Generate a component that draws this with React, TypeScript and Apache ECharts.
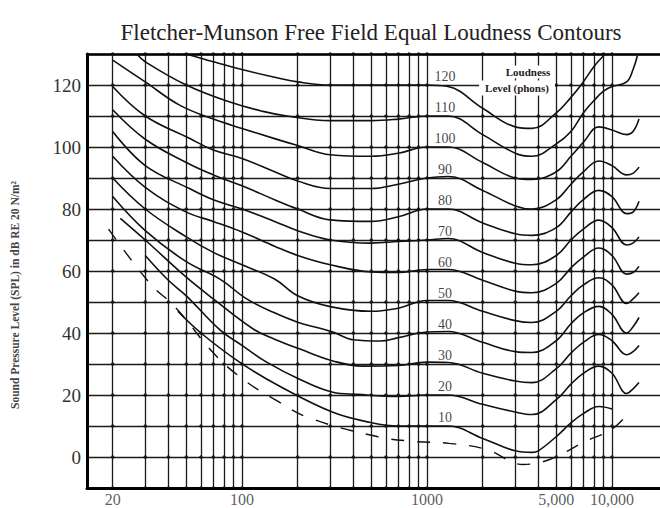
import React, { useEffect, useRef } from 'react';
import * as echarts from 'echarts';

const chartTitle = 'Fletcher-Munson Free Field Equal Loudness Contours';
const yAxisTitle = 'Sound Pressure Level (SPL) in dB RE 20 N/m²';
const legendLine1 = 'Loudness';
const legendLine2 = 'Level (phons)';

// vertical grid lines (Hz)
const freqGrid = [20, 30, 40, 50, 60, 70, 80, 90, 100, 200, 300, 400, 500, 600, 700, 800, 900, 1000,
  2000, 3000, 4000, 5000, 6000, 7000, 8000, 9000, 10000];
// horizontal grid lines (dB)
const dbGrid = [-10, 0, 10, 20, 30, 40, 50, 60, 70, 80, 90, 100, 110, 120, 130];
// x tick labels
const xTickValues = [20, 100, 1000, 5000, 10000];
const xTickTexts = ['20', '100', '1000', '5,000', '10,000'];
// curve labels (phons)
const phonLevels = [10, 20, 30, 40, 50, 60, 70, 80, 90, 100, 110, 120];

const phon120 = [[50, 130], [70, 127.5], [100, 125], [150, 122.5], [200, 121], [300, 120], [500, 120], [700, 120], [1000, 120], [1300, 119.5], [2000, 112.5], [3000, 106.5], [3700, 106], [5000, 111], [6000, 116], [7000, 121], [8000, 126], [9200, 130]];
const phon110 = [[27, 130], [30, 127.5], [50, 120], [86, 114.5], [130, 111.5], [175, 110], [300, 108.5], [500, 108.5], [700, 109], [1000, 110], [1300, 110], [2000, 104], [3000, 98], [3700, 97], [5000, 101], [6000, 105], [7000, 111], [8000, 115], [9000, 118], [10000, 119.5], [12000, 121], [13000, 125], [13800, 130]];
const phon100 = [[20, 128], [30, 121], [46, 113.5], [70, 109], [100, 106], [150, 102.7], [200, 100.5], [300, 97.5], [500, 97], [700, 98], [1000, 100], [1300, 100], [2000, 95], [3000, 90], [3700, 89.5], [5000, 92], [6000, 97], [7000, 101.5], [8500, 106.5], [10000, 105.5], [12000, 104], [13000, 105], [14000, 109]];
const phon90 = [[20, 119.5], [30, 110], [52, 102.8], [70, 99], [100, 96.3], [150, 92], [200, 89], [300, 86.6], [500, 86.6], [700, 88], [1000, 90], [1300, 90.5], [2000, 86], [3000, 81], [3700, 80], [5000, 83], [6000, 88], [7000, 92], [8500, 95.5], [10000, 94], [12000, 91], [13000, 91.5], [14000, 93.5]];
const phon80 = [[20, 112], [30, 102.5], [50, 95], [70, 91], [100, 87.5], [150, 83], [200, 80], [300, 76.5], [500, 76], [700, 77.5], [1000, 80], [1300, 80], [2000, 75.5], [3000, 72], [3700, 71.5], [5000, 74], [6000, 79], [7000, 83], [8500, 86], [10000, 84], [12000, 78.5], [13000, 79], [14000, 82.5]];
const phon70 = [[20, 105], [30, 94], [52, 86.6], [70, 83], [100, 80], [150, 76], [200, 73], [300, 70], [500, 69], [700, 69.5], [1000, 70], [1300, 70.5], [2000, 66], [3000, 62.5], [3700, 62], [5000, 65], [6000, 70], [7000, 73.5], [8500, 76.4], [10000, 74], [12000, 68.4], [13000, 69], [14000, 71]];
const phon60 = [[20, 97], [30, 87], [50, 79], [70, 76], [100, 72.6], [150, 68], [200, 65], [300, 62], [500, 59.7], [700, 59.5], [1000, 60.5], [1300, 60.5], [2000, 57], [3000, 53.5], [3700, 53], [5000, 56], [6000, 61], [7000, 64.5], [8500, 67.4], [10000, 65], [12000, 59], [13000, 59.5], [14000, 61.5]];
const phon50 = [[20, 90], [30, 80], [50, 71], [70, 66], [100, 62], [150, 57.4], [200, 52], [300, 48.5], [500, 47], [700, 48], [1000, 50.5], [1300, 50.5], [2000, 47], [3000, 44], [3700, 43.4], [5000, 47], [6000, 52], [7000, 55.5], [8500, 57.8], [10000, 55.5], [12000, 49.5], [13000, 51], [14000, 53]];
const phon40 = [[20, 84], [30, 73], [50, 63], [76, 57.4], [106, 51], [150, 46.5], [200, 43.5], [310, 40.3], [400, 37.8], [560, 37.4], [700, 38.5], [1000, 40.3], [1300, 40.5], [2000, 37], [3000, 34], [3700, 33.7], [5000, 37.5], [6000, 43], [7000, 46.5], [8500, 48.6], [10000, 46], [12000, 40], [13000, 42], [14000, 45]];
const phon30 = [[22, 77], [30, 70], [50, 58], [70, 51], [115, 41.3], [150, 38], [206, 34.8], [310, 31], [450, 29.3], [700, 29.5], [1000, 30.6], [1300, 30.5], [2000, 27], [3000, 24.5], [3700, 24], [5000, 28.5], [6000, 33.5], [7000, 37], [8500, 39.5], [10000, 37.5], [12000, 33], [13000, 34], [14000, 36]];
const phon20 = [[30, 65], [40, 57], [50, 52], [76, 41], [100, 36], [136, 30.6], [206, 25], [310, 20.9], [420, 20.2], [700, 19.5], [1000, 20], [1300, 20], [2000, 17], [3000, 14.5], [3700, 13.7], [5000, 18.5], [6000, 23.5], [7000, 27], [8500, 29.3], [10000, 27], [12000, 20.5], [13000, 22], [14000, 24]];
const phon10 = [[45, 47], [60, 40], [97, 30.6], [160, 22.8], [310, 14.4], [490, 11.2], [700, 10], [1000, 10], [1300, 10], [2000, 6], [3000, 2], [3700, 1.5], [4000, 2], [5000, 6.6], [6000, 11], [7000, 14], [8500, 16.3], [10000, 15.5]];
const threshold = [[19, 73.5], [32, 55.8], [43.5, 48.4], [72, 32.8], [105, 24.4], [150, 18.6], [227, 12.8], [537, 6.6], [860, 5], [1315, 4.4], [2110, 2.4], [3300, -2.4], [4600, -0.8], [7150, 5], [10000, 9], [12500, 14.7]];

const curves = [phon10, phon20, phon30, phon40, phon50, phon60, phon70, phon80, phon90, phon100, phon110, phon120];

const SERIF = '"Liberation Serif", "DejaVu Serif", serif';

export default function App() {
  const ref = useRef<HTMLDivElement>(null);
  useEffect(() => {
    if (!ref.current) return;
    const chart = echarts.init(ref.current, undefined, { renderer: 'svg' });

    const dots: number[][] = [];
    freqGrid.forEach((f) => dbGrid.forEach((d) => dots.push([f, d])));

    const curveSeries = curves.map((c, i) => ({
      type: 'line',
      name: String(phonLevels[i]),
      data: c,
      smooth: 0.4,
      showSymbol: false,
      symbol: 'none',
      lineStyle: { color: '#111', width: 1.6 },
      z: 5,
    }));

    const option: any = {
      animation: false,
      backgroundColor: '#fff',
      grid: { left: 87, top: 54, right: 0, bottom: 20, containLabel: false },
      xAxis: [
        {
          type: 'log',
          min: 14.53,
          max: 18180,
          axisLine: { show: true, onZero: false, lineStyle: { color: '#000', width: 3 } },
          axisTick: { show: false },
          axisLabel: { show: false },
          splitLine: { show: false },
          minorSplitLine: { show: false },
        },
        {
          type: 'value',
          position: 'top',
          min: 0,
          max: 1,
          axisLine: { show: true, onZero: false, lineStyle: { color: '#000', width: 2.5 } },
          axisTick: { show: false },
          axisLabel: { show: false },
          splitLine: { show: false },
        },
      ],
      yAxis: {
        type: 'value',
        min: -10,
        max: 130,
        interval: 10,
        axisLine: { show: true, onZero: false, lineStyle: { color: '#000', width: 3 } },
        axisTick: { show: false },
        axisLabel: {
          margin: 6,
          color: '#333',
          fontSize: 19,
          fontFamily: SERIF,
          formatter: (v: number) => (v >= 0 && v <= 120 && v % 20 === 0 ? String(v) : ''),
        },
        splitLine: { show: true, lineStyle: { color: '#1a1a1a', width: 1.3 } },
      },
      series: [
        {
          type: 'scatter',
          data: dots,
          symbolSize: 3.5,
          itemStyle: { color: '#000' },
          silent: true,
          z: 3,
          markLine: {
            silent: true,
            symbol: 'none',
            label: { show: false },
            lineStyle: { color: '#1a1a1a', width: 1.3, type: 'solid' },
            data: freqGrid.map((f) => ({ xAxis: f })),
          },
        },
        ...curveSeries,
        {
          type: 'line',
          name: 'threshold',
          data: threshold,
          smooth: 0.4,
          showSymbol: false,
          symbol: 'none',
          lineStyle: { color: '#111', width: 1.4, type: [13, 13] },
          z: 5,
        },
        {
          type: 'scatter',
          data: xTickValues.map((f, i) => ({ value: [f, -10], label: { formatter: xTickTexts[i] } })),
          symbolSize: 1,
          itemStyle: { color: 'rgba(0,0,0,0)' },
          clip: false,
          silent: true,
          label: {
            show: true,
            position: 'bottom',
            distance: 3,
            color: '#333',
            fontSize: 16,
            lineHeight: 16,
            fontFamily: SERIF,
          },
        },
        {
          type: 'scatter',
          data: phonLevels.map((p) => ({ value: [1250, p + 2.6], label: { formatter: String(p) } })),
          symbolSize: 1,
          itemStyle: { color: 'rgba(0,0,0,0)' },
          silent: true,
          z: 6,
          label: {
            show: true,
            position: 'inside',
            color: '#111',
            fontSize: 14,
            fontFamily: SERIF,
          },
        },
      ],
      graphic: [
        {
          type: 'text',
          x: 371,
          y: 32,
          style: {
            text: chartTitle,
            textAlign: 'center',
            textVerticalAlign: 'middle',
            fill: '#222',
            font: `23px ${SERIF}`,
          },
        },
        {
          type: 'text',
          x: 15,
          y: 295,
          rotation: Math.PI / 2,
          style: {
            text: yAxisTitle,
            textAlign: 'center',
            textVerticalAlign: 'middle',
            fill: '#444',
            font: `bold 11.5px ${SERIF}`,
          },
        },
        {
          type: 'text',
          x: 528,
          y: 72,
          z: 10,
          style: {
            text: legendLine1,
            textAlign: 'center',
            textVerticalAlign: 'middle',
            fill: '#222',
            font: `bold 11px ${SERIF}`,
            backgroundColor: '#fff',
            padding: [1, 2],
          },
        },
        {
          type: 'text',
          x: 517,
          y: 88,
          z: 10,
          style: {
            text: legendLine2,
            textAlign: 'center',
            textVerticalAlign: 'middle',
            fill: '#222',
            font: `bold 11px ${SERIF}`,
            backgroundColor: '#fff',
            padding: [2, 6],
          },
        },
      ],
    };
    chart.setOption(option);
    return () => chart.dispose();
  }, []);
  return <div ref={ref} style={{ position: 'absolute', left: 0, top: 0, width: 660, height: 508 }} />;
}
